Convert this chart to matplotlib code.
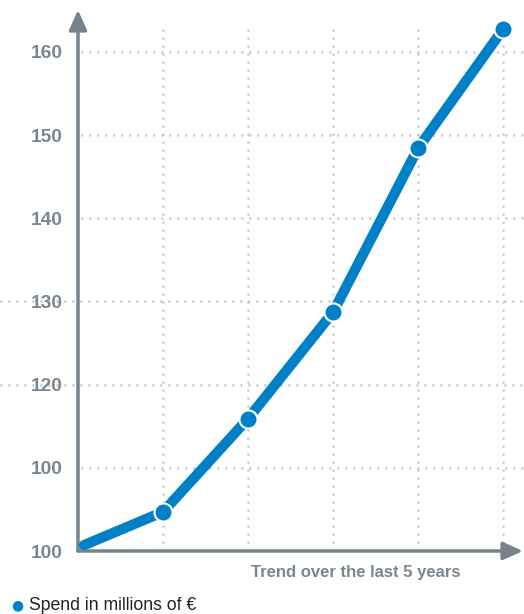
import matplotlib.pyplot as plt

# data
x_pos = [0.07, 1, 2, 3, 4, 5]
spend = [100.7, 104.7, 115.9, 128.7, 148.4, 162.7]
y_ticks = [100, 110, 120, 130, 140, 150, 160]
y_labels = ['100', '100', '120', '130', '140', '150', '160']
x_label = 'Trend over the last 5 years'
legend_label = 'Spend in millions of \u20ac'

blue = '#0080c6'
axis_gray = '#77838b'
grid_gray = '#bcc3c9'
label_gray = '#7b868e'

plt.rcParams['font.family'] = ['Liberation Sans', 'DejaVu Sans']

fig = plt.figure(figsize=(5.24, 6.14), dpi=100)
# axes: x 78..523 px, y 10..551 px
ax = fig.add_axes([78 / 524, 63 / 614, 445 / 524, 541 / 614])
ax.set_xlim(0, 445 / 85)
ax.set_ylim(100, 100 + 541 / 8.32)
for s in ax.spines.values():
    s.set_visible(False)

# dotted grid
dots = (0, (0.7, 2.5))
for xv in range(1, 6):
    ax.plot([xv, xv], [100, 162.9], color=grid_gray, lw=1.8, ls=dots, zorder=1)
for yv in y_ticks[1:]:
    x0 = -0.92 if yv in (120, 130) else 0.04
    ax.plot([x0, 5.3], [yv, yv], color=grid_gray, lw=1.8, ls=dots,
            zorder=1, clip_on=False)

# axis arrows
arrow = dict(arrowstyle='-|>,head_length=0.8,head_width=0.36', color=axis_gray,
             lw=2.5, shrinkA=0, shrinkB=0, mutation_scale=15)
ax.annotate('', xy=(0, 1), xytext=(0, 0), xycoords='axes fraction', arrowprops=arrow)
ax.annotate('', xy=(1, 0), xytext=(0, 0), xycoords='axes fraction', arrowprops=arrow)

ax.set_yticks(y_ticks)
ax.set_yticklabels(y_labels, fontsize=13.8, fontweight='bold', color=label_gray)
ax.tick_params(axis='y', length=0, pad=11)
ax.set_xticks([])

ax.text((356 - 78) / 445, -22 / 541, x_label, transform=ax.transAxes,
        ha='center', va='center', fontsize=12, fontweight='bold', color=label_gray)

ax.plot(x_pos, spend, color=blue, lw=7.4, solid_capstyle='round', zorder=3, clip_on=False)
ax.plot(x_pos[1:], spend[1:], 'o', color=blue, ms=13, mec='white', mew=1.5,
        zorder=4, clip_on=False)

# legend
fig.text(17 / 524, 1 - 605 / 614, '\u25cf', color=blue, fontsize=10,
         ha='center', va='center', family=['DejaVu Sans'])
fig.text(29 / 524, 1 - 605 / 614, legend_label, color='#222222', fontsize=12.7,
         ha='left', va='center')

fig.savefig('out.png', dpi=100)
